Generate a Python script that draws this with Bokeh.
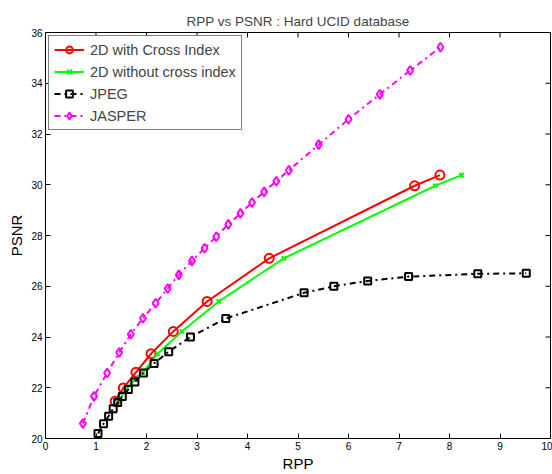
import math
from bokeh.plotting import figure
from bokeh.models import Range1d, FixedTicker
from bokeh.embed import file_html
from bokeh.resources import INLINE

# ---- data ----
cross_rpp = [1.38, 1.54, 1.79, 2.09, 2.53, 3.20, 4.43, 7.31, 7.81]
cross_psnr = [21.47, 21.99, 22.61, 23.34, 24.22, 25.40, 27.10, 29.96, 30.38]

nocross_rpp = [1.45, 1.60, 1.93, 2.22, 2.70, 3.43, 4.72, 7.72, 8.24]
nocross_psnr = [21.47, 21.99, 22.61, 23.34, 24.22, 25.40, 27.10, 29.96, 30.38]

jpeg_rpp = [1.04, 1.15, 1.25, 1.34, 1.43, 1.52, 1.64, 1.77, 1.94, 2.15, 2.44, 2.87,
            3.57, 5.12, 5.71, 6.38, 7.19, 8.56, 9.52]
jpeg_psnr = [20.20, 20.58, 20.88, 21.17, 21.42, 21.66, 21.93, 22.23, 22.58, 22.96,
             23.42, 24.00, 24.73, 25.74, 26.00, 26.21, 26.38, 26.49, 26.51]

jasper_rpp = [0.74, 0.96, 1.22, 1.46, 1.69, 1.93, 2.18, 2.42, 2.64, 2.90, 3.15, 3.38,
              3.62, 3.86, 4.09, 4.33, 4.57, 4.82, 5.41, 6.00, 6.62, 7.22, 7.82]
jasper_psnr = [20.59, 21.66, 22.58, 23.39, 24.11, 24.74, 25.33, 25.91, 26.45, 27.00,
               27.50, 27.95, 28.44, 28.87, 29.30, 29.72, 30.14, 30.57, 31.58, 32.58,
               33.56, 34.50, 35.42]

x_ticks = list(range(0, 11))
y_ticks = list(range(20, 37, 2))
x_min, x_max = 0, 10
y_min, y_max = 20, 36

FONT = "Liberation Sans"

p = figure(width=552, height=474, output_backend="svg", toolbar_location=None,
           x_range=Range1d(x_min, x_max), y_range=Range1d(y_min, y_max),
           title="RPP vs PSNR : Hard UCID database",
           min_border_left=45, min_border_right=2, min_border_top=32, min_border_bottom=35)

p.title.align = "center"
p.title.text_font = FONT
p.title.text_font_size = "13.5px"
p.title.text_font_style = "normal"
p.title.standoff = 8

p.grid.visible = False
p.outline_line_color = "black"
p.outline_line_width = 1
p.background_fill_color = "white"
p.border_fill_color = "white"

for ax, ticks in ((p.xaxis[0], x_ticks), (p.yaxis[0], y_ticks)):
    ax.ticker = FixedTicker(ticks=ticks)
    ax.major_tick_in = 5
    ax.major_tick_out = 0
    ax.minor_tick_in = 0
    ax.minor_tick_out = 0
    ax.major_label_text_font = FONT
    ax.major_label_text_font_size = "10px"
    ax.major_label_text_color = "black"
    ax.axis_label_text_font = FONT
    ax.axis_label_text_font_size = "15px"
    ax.axis_label_text_font_style = "normal"
    ax.axis_label_text_color = "black"
    ax.axis_line_color = "black"
    ax.major_label_standoff = 3

p.xaxis.axis_label = "RPP"
p.yaxis.axis_label = "PSNR"
p.xaxis.axis_label_standoff = 2
p.yaxis.axis_label_standoff = 3

# top and right inward ticks (box style), clipped to the frame
p.scatter(x_ticks, [y_max] * len(x_ticks), marker="dash", angle=math.pi / 2, size=10,
          line_color="black", line_width=1)
p.scatter([x_max] * len(y_ticks), y_ticks, marker="dash", size=10,
          line_color="black", line_width=1)

# series
p.line(cross_rpp, cross_psnr, color="#FF0000", line_width=2, legend_label="2D with Cross Index")
p.scatter(cross_rpp, cross_psnr, marker="circle", size=9, fill_color=None,
          line_color="#FF0000", line_width=2, legend_label="2D with Cross Index")

p.line(nocross_rpp, nocross_psnr, color="#00FF00", line_width=2, legend_label="2D without cross index")
p.scatter(nocross_rpp, nocross_psnr, marker="x", size=6,
          line_color="#00FF00", line_width=2, legend_label="2D without cross index")

p.line(jpeg_rpp, jpeg_psnr, color="black", line_width=2, line_dash="dashdot", legend_label="JPEG")
p.scatter(jpeg_rpp, jpeg_psnr, marker="square", size=7, fill_color=None,
          line_color="black", line_width=2, legend_label="JPEG")

p.line(jasper_rpp, jasper_psnr, color="#FF00FF", line_width=2, line_dash="dashdot", legend_label="JASPER")
p.scatter(jasper_rpp, jasper_psnr, marker="diamond", size=9, fill_color=None,
          line_color="#FF00FF", line_width=2, legend_label="JASPER")

lg = p.legend[0]
lg.location = "top_left"
lg.margin = 3
lg.padding = 5
lg.spacing = 5
lg.border_line_color = "black"
lg.border_line_width = 1
lg.label_text_font = FONT
lg.label_text_font_size = "14.5px"
lg.glyph_width = 30
lg.glyph_height = 17
lg.label_height = 17
lg.label_standoff = 6
lg.background_fill_alpha = 1

open("out.html", "w").write(file_html(p, INLINE))
